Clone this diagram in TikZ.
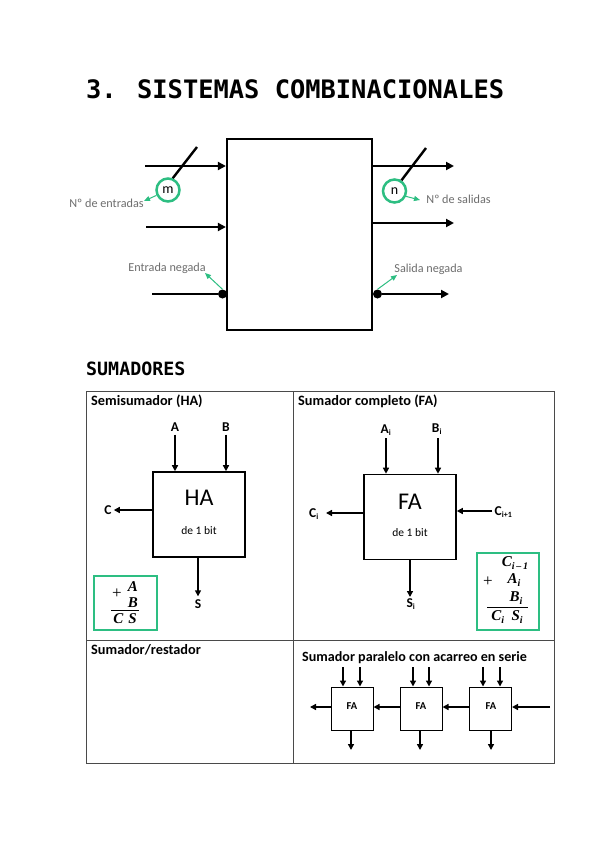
\documentclass[tikz,border=0pt]{standalone}
\usepackage{fontspec}
\usepackage{amsmath}
\setmainfont{Carlito}
\newfontfamily\monob{DejaVu Sans Mono}
\newfontfamily\mathf{Liberation Serif}
\usetikzlibrary{arrows.meta,calc}
\definecolor{grn}{HTML}{2DBE82}
\definecolor{lbl}{HTML}{6E6E6E}
\definecolor{rule}{HTML}{4A4A4A}
\newcommand{\fs}[1]{\fontsize{#1}{#1}\selectfont}
\newcommand{\mi}[1]{{\mathf\bfseries\itshape #1}}
\newcommand{\msub}[1]{{\mathf\bfseries\itshape\fs{10}\raisebox{-2.5pt}{#1}}}
\tikzset{
 x=1pt,y=-1pt,
 mainarrow/.style={line width=2.4pt,-{Triangle[length=8pt,width=8pt]}},
 mainline/.style={line width=2.4pt},
 greenarrow/.style={draw=grn,line width=1pt,-{Triangle[length=6pt,width=5pt]}},
 thinarrow/.style={line width=1.4pt,-{Triangle[length=6pt,width=6pt]}},
 bigbox/.style={draw,line width=2.2pt,minimum width=145pt,minimum height=191pt,inner sep=0pt},
 midbox/.style={draw,line width=1.6pt,minimum width=92pt,minimum height=85pt,inner sep=0pt},
 smallbox/.style={draw,line width=1pt,minimum width=42pt,minimum height=43pt,inner sep=0pt},
 boxtext/.style={inner sep=0pt,font=\bfseries\fs{10.5}},
 ring/.style={circle,draw=grn,line width=2.5pt,minimum size=23pt,inner sep=0pt,font=\fs{14}},
 notebox/.style={draw=grn,line width=2pt,inner sep=0pt},
 graylabel/.style={text=lbl,inner sep=0pt,font=\fs{12.2}},
 headlabel/.style={anchor=base west,inner sep=0pt,font=\bfseries\fs{14.3}},
 portlabel/.style={inner sep=0pt,font=\bfseries\fs{13.5}},
 mathlabel/.style={inner sep=0pt,font=\fs{15}},
 gridline/.style={draw=rule,line width=0.9pt},
 dot/.style={circle,fill=black,minimum size=9pt,inner sep=0pt},
}
\begin{document}
\begin{tikzpicture}
\useasboundingbox[fill=white] (0,0) rectangle (599,848);
% title
\node[anchor=base west,inner sep=0pt] (title) at (86,99) {\monob\bfseries\fs{25.4}3. SISTEMAS COMBINACIONALES};
% main block
\node[bigbox] (main) at (299.5,234.5) {};
\coordinate (i1) at (145,166); \coordinate (i2) at (146,227); \coordinate (i3) at (152,294);
\coordinate (o1) at (454,166); \coordinate (o2) at (454,223); \coordinate (o3) at (449,294);
\draw[mainarrow] (i1) -- (i1 -| main.west);
\draw[mainarrow] (i2) -- (i2 -| main.west);
\draw[mainarrow] (main.east |- o1) -- (o1);
\draw[mainarrow] (main.east |- o2) -- (o2);
\node[dot] (d1) at (222.5,294) {};
\node[dot] (d2) at (377.5,294) {};
\draw[mainline] (i3) -- (d1);
\draw[mainarrow] (d2) -- (o3);
\node[ring] (m) at (168,190) {m};
\node[ring] (n) at (394.5,191) {n};
\coordinate (s1) at (197,147); \coordinate (s2) at (426,148);
\draw[mainline] (s1) -- (m.68);
\draw[mainline] (s2) -- (n.57);
\node[graylabel] (le) at (106.5,203) {Nº de entradas};
\node[graylabel] (ls) at (458.5,199) {Nº de salidas};
\node[graylabel] (ln) at (167,268) {Entrada negada};
\node[graylabel] (lsn) at (428.5,269) {Salida negada};
\coordinate (ge) at (144,201); \coordinate (gs) at (420,200);
\coordinate (gn) at (205,273); \coordinate (gsn) at (397,275);
\draw[greenarrow] (m.205) -- (ge);
\draw[greenarrow] (n.-25) -- (gs);
\draw[greenarrow] (d1.north) -- (gn);
\draw[greenarrow] (d2.north) -- (gsn);
% section heading
\node[anchor=base west,inner sep=0pt] (sec) at (86,375) {\monob\bfseries\fs{18.3}SUMADORES};
% table
\coordinate (t1) at (86,391); \coordinate (t2) at (554,763);
\coordinate (t3) at (293,391); \coordinate (t4) at (293,763);
\coordinate (t5) at (86,640); \coordinate (t6) at (554,640);
\draw[gridline] (t1) rectangle (t2);
\draw[gridline] (t3) -- (t4);
\draw[gridline] (t5) -- (t6);
\node[headlabel] (h1) at (91,405) {Semisumador (HA)};
\node[headlabel] (h2) at (298,405) {Sumador completo (FA)};
\node[headlabel] (h3) at (91,654) {Sumador/restador};
\node[headlabel,font=\bfseries\fs{14.1}] (h4) at (302,661) {Sumador paralelo con acarreo en serie};
% HA
\node[midbox] (ha) at (199,514.5) {};
\node[inner sep=0pt,font=\fs{24}] (hat) at (199,498) {HA};
\node[inner sep=0pt,font=\fs{11.5}] (hab) at (199,531) {de 1 bit};
\node[portlabel] (a) at (175,427) {A};
\node[portlabel] (b) at (226,427) {B};
\node[portlabel] (c) at (108,510) {C};
\node[portlabel] (s) at (198,604) {S};
\draw[thinarrow] (a.south) ++(0,3) -- (a.south |- ha.north);
\draw[thinarrow] (b.south) ++(0,3) -- (b.south |- ha.north);
\draw[thinarrow] (ha.west |- c.east) -- ($(c.east)+(2,0)$);
\draw[thinarrow] (s.north |- ha.south) -- ($(s.north)+(0,-3)$);
\node[notebox,minimum width=63pt,minimum height=54pt] (nha) at (125,602.5) {};
\node[mathlabel] (m1) at (133,587) {\mi{A}};
\node[mathlabel] (m2) at (133,603) {\mi{B}};
\node[mathlabel,font=\fs{17}] (m3) at (117,594) {\mathf +};
\node[mathlabel] (m4) at (125,619) {\mi{C\,\,S}};
\coordinate (ml1) at (111,610); \coordinate (ml2) at (139,610);
\draw[line width=0.8pt] (ml1) -- (ml2);
% FA
\node[midbox] (fa) at (410,517) {};
\node[inner sep=0pt,font=\fs{24}] (fat) at (410,502) {FA};
\node[inner sep=0pt,font=\fs{11.5}] (fab) at (410,533) {de 1 bit};
\node[portlabel] (ai) at (386,430) {A\textsubscript{\fs{8}i}};
\node[portlabel] (bi) at (437,429) {B\textsubscript{\fs{8}i}};
\node[portlabel] (ci) at (314,514) {C\textsubscript{\fs{8}i}};
\node[portlabel] (cn) at (503.5,512) {C\textsubscript{\fs{8}i+1}};
\node[portlabel] (si) at (411,604) {S\textsubscript{\fs{8}i}};
\coordinate (ait) at (386,438); \coordinate (bit) at (438,438);
\draw[thinarrow] (ait) -- (ait |- fa.north);
\draw[thinarrow] (bit) -- (bit |- fa.north);
\coordinate (cil) at (326,513); \coordinate (cnr) at (492,511); \coordinate (sib) at (410,597);
\draw[thinarrow] (fa.west |- cil) -- (cil);
\draw[thinarrow] (cnr) -- (cnr -| fa.east);
\draw[thinarrow] (sib |- fa.south) -- (sib);
\node[notebox,minimum width=62pt,minimum height=77pt] (nfa) at (507.5,591) {};
\node[mathlabel] (f1) at (515,563) {\mi{C}\msub{i\,–\,1}};
\node[mathlabel] (f2) at (514,580) {\mi{A}\msub{i}};
\node[mathlabel] (f3) at (516,598) {\mi{B}\msub{i}};
\node[mathlabel,font=\fs{17}] (f4) at (488,582) {\mathf +};
\node[mathlabel] (f5) at (507,617) {\mi{C}\msub{i}\,\,\,\mi{S}\msub{i}};
\coordinate (fl1) at (487,607); \coordinate (fl2) at (528,607);
\draw[line width=0.8pt] (fl1) -- (fl2);
% parallel adder
\node[smallbox] (fa1) at (352,708.5) {};
\node[smallbox] (fa2) at (421,708.5) {};
\node[smallbox] (fa3) at (490.5,708.5) {};
\node[boxtext] (fat1) at (352,706) {FA};
\node[boxtext] (fat2) at (421,706) {FA};
\node[boxtext] (fat3) at (491,706) {FA};
\foreach \nm/\xa/\xb in {fa1/343/360,fa2/413/429,fa3/483/500}{
  \coordinate (p) at (\xa,667); \coordinate (q) at (\xb,667);
  \draw[thinarrow] (p) -- (p |- \nm.north);
  \draw[thinarrow] (q) -- (q |- \nm.north);
}
\foreach \nm/\xa in {fa1/351,fa2/420,fa3/491}{
  \coordinate (p) at (\xa,750);
  \draw[thinarrow] (p |- \nm.south) -- (p);
}
\coordinate (cy0) at (310,707); \coordinate (cy1) at (550,707);
\draw[thinarrow] (fa1.west |- cy0) -- (cy0);
\draw[thinarrow] (fa2.west |- cy0) -- (fa1.east |- cy0);
\draw[thinarrow] (fa3.west |- cy0) -- (fa2.east |- cy0);
\draw[thinarrow] (cy1) -- (fa3.east |- cy1);
\end{tikzpicture}
\end{document}
